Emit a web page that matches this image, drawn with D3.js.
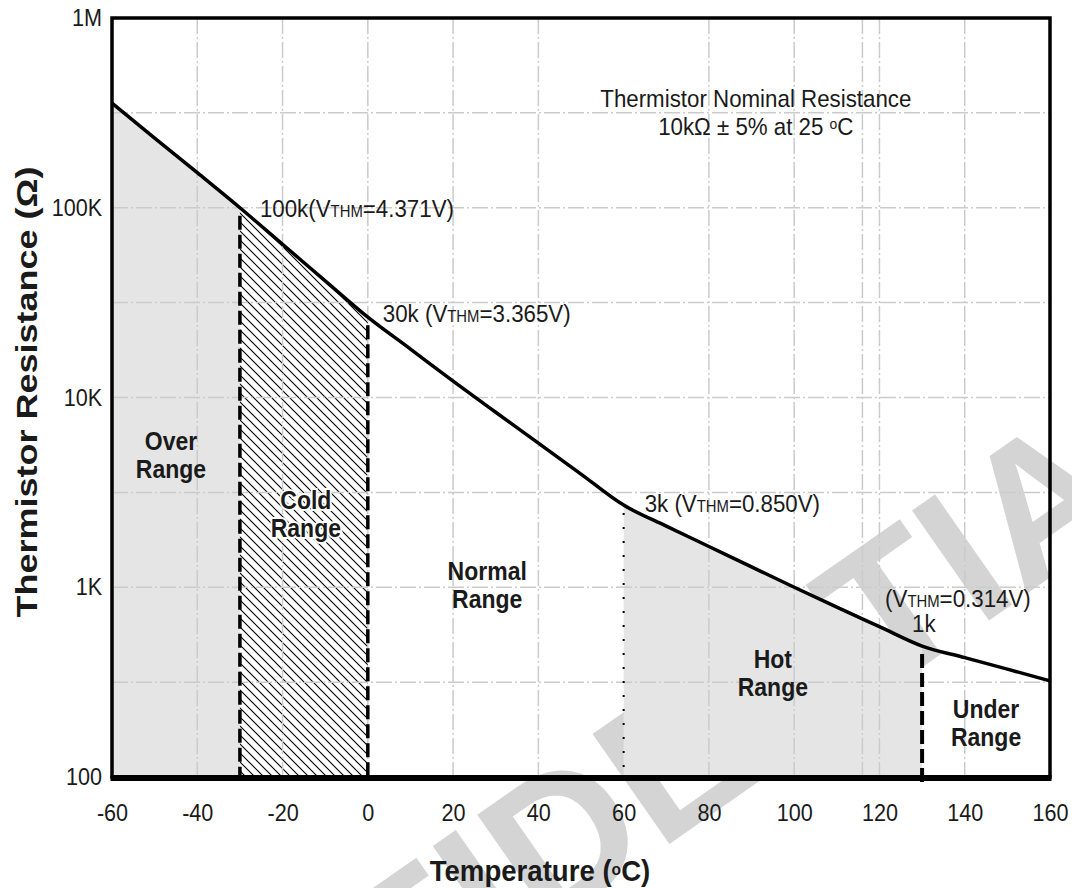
<!DOCTYPE html>
<html>
<head>
<meta charset="utf-8">
<title>Thermistor Resistance vs. Temperature</title>
<script src="https://d3js.org/d3.v7.min.js"></script>
<style>
body { margin: 0; background: #fff; }
text { font-family: "Liberation Sans", Arial, sans-serif; fill: #1a1a1a; }
</style>
</head>
<body>
<svg class="chart"></svg>
<script>
// resistance curve, every 10 degC
var temps = [-60, -50, -40, -30, -20, -10, 0, 10, 20, 30, 40, 50, 60, 70, 80, 90, 100, 110, 120, 130, 140, 150, 160];
var ohms = [356000, 233000, 153000, 100000, 64200, 41200, 26500, 18000, 12200, 8360, 5750, 3950, 2710, 2100, 1640, 1280, 1000, 785, 620, 490, 426, 370, 321];

var xTicks = [-60, -40, -20, 0, 20, 40, 60, 80, 100, 120, 140, 160];
var yTicks = [100, 1000, 10000, 100000, 1000000];
var yTickLabels = ["100", "1K", "10K", "100K", "1M"];

// grid: every 20 degC (plus a stray one near 116) and every half decade
var xGrid = [-40, -20, 0, 20, 40, 80, 100, 116, 120, 140];
var yGrid = [316, 1000, 3162, 10000, 31623, 100000, 316228];

// range limits (degC) and names
var rangeEdges = [-60, -30, 0, 60, 130, 160];
var rangeNames = [["Over", "Range"], ["Cold", "Range"], ["Normal", "Range"], ["Hot", "Range"], ["Under", "Range"]];

var width = 1072, height = 888;
var svg = d3.select(".chart").attr("width", width).attr("height", height);

var x = d3.scaleLinear().domain([-60, 160]).range([112, 1050]);
var y = d3.scaleLog().domain([100, 1000000]).range([777, 18]);

var data = temps.map(function(t, i) { return {t: t, r: ohms[i]}; });
function between(a, b) { return data.filter(function(d) { return d.t >= a && d.t <= b; }); }
function ohmAt(t) { return ohms[temps.indexOf(t)]; }

var defs = svg.append("defs");
var hatch = defs.append("pattern")
	.attr("id", "hatch")
	.attr("patternUnits", "userSpaceOnUse")
	.attr("width", 9).attr("height", 9);
hatch.append("rect").attr("width", 9).attr("height", 9).attr("fill", "#fff");
hatch.append("path")
	.attr("d", "M-1,-1L10,10M-1,8L1,10M8,-1L10,1")
	.attr("stroke", "#000").attr("stroke-width", 1.1);

var area = d3.area()
	.x(function(d) { return x(d.t); })
	.y0(y(100))
	.y1(function(d) { return y(d.r); })
	.curve(d3.curveMonotoneX);

var line = d3.line()
	.x(function(d) { return x(d.t); })
	.y(function(d) { return y(d.r); })
	.curve(d3.curveMonotoneX);

// scanned watermark, mostly hidden by the plot
svg.append("text")
	.attr("transform", "translate(641,864) rotate(-35)")
	.attr("text-anchor", "middle")
	.style("font-size", "195px").style("font-weight", "bold").style("fill", "#d4d4d4")
	.text("CONFIDENTIAL");

// shaded ranges
svg.append("path").datum(between(rangeEdges[0], rangeEdges[1])).attr("d", area).attr("fill", "#e5e5e5");
svg.append("path").datum(between(rangeEdges[3], rangeEdges[4])).attr("d", area).attr("fill", "#e5e5e5");
svg.append("path").datum(between(rangeEdges[1], rangeEdges[2])).attr("d", area).attr("fill", "url(#hatch)");

// grid
var grid = svg.append("g").attr("stroke", "#cbcbcb").attr("stroke-width", 1.5).attr("stroke-dasharray", "16,3,2,3");
grid.selectAll(".vg").data(xGrid).enter().append("line")
	.attr("x1", function(d) { return x(d); }).attr("x2", function(d) { return x(d); })
	.attr("y1", y(1000000)).attr("y2", y(100));
grid.selectAll(".hg").data(yGrid).enter().append("line")
	.attr("x1", x(-60)).attr("x2", x(160))
	.attr("y1", function(d) { return y(d); }).attr("y2", function(d) { return y(d); });

// range boundaries
function edge(t, dash, w, extra) {
	svg.append("line")
		.attr("x1", x(t)).attr("x2", x(t))
		.attr("y1", y(ohmAt(t)) + 8).attr("y2", y(100) + extra)
		.attr("stroke", "#000").attr("stroke-width", w)
		.attr("stroke-dasharray", dash);
}
edge(rangeEdges[1], "14,5", 3.5, 0);
edge(rangeEdges[2], "14,5", 3.5, 0);
edge(rangeEdges[3], "2,12", 2, 0);
edge(rangeEdges[4], "14,5", 4, 8);

// curve
svg.append("path").datum(data).attr("d", line)
	.attr("fill", "none").attr("stroke", "#000").attr("stroke-width", 3.5);

// frame
svg.append("rect")
	.attr("x", x(-60)).attr("y", y(1000000))
	.attr("width", x(160) - x(-60)).attr("height", y(100) - y(1000000))
	.attr("fill", "none").attr("stroke", "#000").attr("stroke-width", 3.5);
svg.append("line")
	.attr("x1", x(-60) - 1.5).attr("x2", x(160) + 1.5)
	.attr("y1", y(100) + 1).attr("y2", y(100) + 1)
	.attr("stroke", "#000").attr("stroke-width", 6);

// axes
var yAxis = d3.axisLeft(y).tickValues(yTicks)
	.tickFormat(function(d, i) { return yTickLabels[i]; })
	.tickSize(0).tickPadding(11);
var xAxis = d3.axisBottom(x).tickValues(xTicks)
	.tickFormat(function(d) { return String(d); })
	.tickSize(0).tickPadding(27);

var gy = svg.append("g").attr("transform", "translate(" + x(-60) + ",0)").call(yAxis);
var gx = svg.append("g").attr("transform", "translate(0," + y(100) + ")").call(xAxis);
[gx, gy].forEach(function(g) {
	g.select(".domain").remove();
	g.selectAll("text")
		.attr("fill", null)
		.attr("transform", "scale(0.9,1)")
		.style("font-size", "24px").style("font-family", null);
});
gx.selectAll(".tick text").attr("x", 0);

// axis titles
svg.append("text")
	.attr("transform", "translate(540,881) scale(0.92,1)")
	.attr("text-anchor", "middle")
	.style("font-size", "30px").style("font-weight", "bold")
	.call(function(t) {
		t.append("tspan").text("Temperature (");
		t.append("tspan").attr("baseline-shift", "40%").style("font-size", "17px").text("o");
		t.append("tspan").text("C)");
	});
svg.append("text")
	.attr("transform", "translate(37,392) rotate(-90) scale(1.2,1)")
	.attr("text-anchor", "middle")
	.style("font-size", "30px").style("font-weight", "bold")
	.text("Thermistor Resistance (\u03A9)");

// annotation text with the small THM and raised o
function note(px, py, anchor, parts) {
	var t = svg.append("text")
		.attr("transform", "translate(" + px + "," + py + ") scale(0.93,1)")
		.attr("text-anchor", anchor)
		.style("font-size", "24px");
	parts.forEach(function(p) {
		var s = t.append("tspan").text(p[0]);
		if (p[1] == "small") s.style("font-size", "16px");
		if (p[1] == "sup") s.attr("baseline-shift", "40%").style("font-size", "15px");
	});
}
note(x(91), 107, "middle", [["Thermistor Nominal Resistance"]]);
note(x(91), 135, "middle", [["10k\u03A9 \u00B1 5% at 25 "], ["o", "sup"], ["C"]]);

// threshold labels
note(x(-30) + 20, y(100000) + 9, "start", [["100k(V"], ["THM", "small"], ["=4.371V)"]]);
note(x(0) + 15, y(ohmAt(0)) + 5, "start", [["30k (V"], ["THM", "small"], ["=3.365V)"]]);
note(x(60) + 21, y(ohmAt(60)) + 7, "start", [["3k (V"], ["THM", "small"], ["=0.850V)"]]);
note(x(130) - 37, y(ohmAt(130)) - 39, "start", [["(V"], ["THM", "small"], ["=0.314V)"]]);
note(x(130) - 10, y(ohmAt(130)) - 14, "start", [["1k"]]);

// range names
function rangeLabel(i, cx, top) {
	var t = svg.append("text")
		.attr("transform", "translate(" + cx + "," + top + ") scale(0.92,1)")
		.attr("text-anchor", "middle")
		.style("font-size", "25px").style("font-weight", "bold");
	if (i == 1) t.style("stroke", "#fff").style("stroke-width", 4).style("paint-order", "stroke");
	rangeNames[i].forEach(function(w, k) {
		t.append("tspan").attr("x", 0).attr("y", k * 28).text(w);
	});
}
rangeLabel(0, x(-45) - 5, 450);
rangeLabel(1, x(-15) + 2, 509);
rangeLabel(2, x(28), 580);
rangeLabel(3, x(95), 668);
rangeLabel(4, x(145), 718);
</script>
</body>
</html>
